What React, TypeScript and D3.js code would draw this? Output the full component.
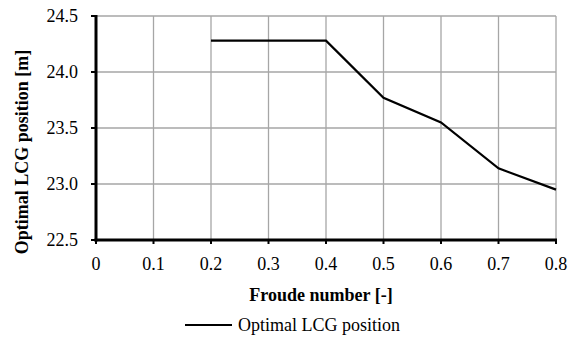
import React from "react";
import * as d3 from "d3";

const froude = [0.2, 0.4, 0.5, 0.6, 0.7, 0.8];
const lcg = [24.28, 24.28, 23.77, 23.55, 23.14, 22.95];
const xTicks = [0, 0.1, 0.2, 0.3, 0.4, 0.5, 0.6, 0.7, 0.8];
const yTicks = [22.5, 23.0, 23.5, 24.0, 24.5];
const xTitle = "Froude number [-]";
const yTitle = "Optimal LCG position [m]";
const seriesName = "Optimal LCG position";

const W = 572;
const H = 337;
const left = 96;
const right = 556;
const top = 16;
const bottom = 240;
const font = "Liberation Serif, serif";

export default function App() {
  const x = d3.scaleLinear().domain([0, 0.8]).range([left, right]);
  const y = d3.scaleLinear().domain([22.5, 24.5]).range([bottom, top]);
  const line = d3
    .line<number>()
    .x((_, i) => x(froude[i]))
    .y((d) => y(d));
  const xFmt = (v: number) => (v === 0 ? "0" : d3.format(".1f")(v));
  const ts = { fontFamily: font, fontSize: 18 };
  const bs = { fontFamily: font, fontSize: 18, fontWeight: 700 };
  return (
    <svg
      width={W}
      height={H}
      style={{ position: "absolute", left: 0, top: 0, background: "#fff" }}
    >
      {xTicks.slice(1).map((t) => (
        <line key={"gx" + t} x1={x(t)} x2={x(t)} y1={top} y2={bottom} stroke="#a6a6a6" strokeWidth={1.3} />
      ))}
      {yTicks.slice(1).map((t) => (
        <line key={"gy" + t} x1={left} x2={right} y1={y(t)} y2={y(t)} stroke="#a6a6a6" strokeWidth={1.3} />
      ))}
      {xTicks.map((t) => (
        <line key={"tx" + t} x1={x(t)} x2={x(t)} y1={bottom} y2={bottom + 4} stroke="#000" strokeWidth={2} />
      ))}
      {yTicks.map((t) => (
        <line key={"ty" + t} x1={left - 5} x2={left} y1={y(t)} y2={y(t)} stroke="#000" strokeWidth={2} />
      ))}
      <line x1={left} x2={left} y1={top - 1} y2={bottom + 1.5} stroke="#000" strokeWidth={3} />
      <line x1={left - 1.5} x2={right + 1} y1={bottom} y2={bottom} stroke="#000" strokeWidth={3} />
      <path d={line(lcg) || ""} fill="none" stroke="#000" strokeWidth={2.2} />
      {xTicks.map((t) => (
        <text key={"lx" + t} x={x(t)} y={270} textAnchor="middle" style={ts}>
          {xFmt(t)}
        </text>
      ))}
      {yTicks.map((t) => (
        <text key={"ly" + t} x={78} y={y(t) + 6} textAnchor="end" style={ts}>
          {d3.format(".1f")(t)}
        </text>
      ))}
      <text x={321} y={301} textAnchor="middle" style={bs}>
        {xTitle}
      </text>
      <text
        transform={`translate(28, 152) rotate(-90)`}
        textAnchor="middle"
        style={bs}
      >
        {yTitle}
      </text>
      <line x1={185} x2={232} y1={325} y2={325} stroke="#000" strokeWidth={2.2} />
      <text x={238} y={331} style={ts}>
        {seriesName}
      </text>
    </svg>
  );
}
